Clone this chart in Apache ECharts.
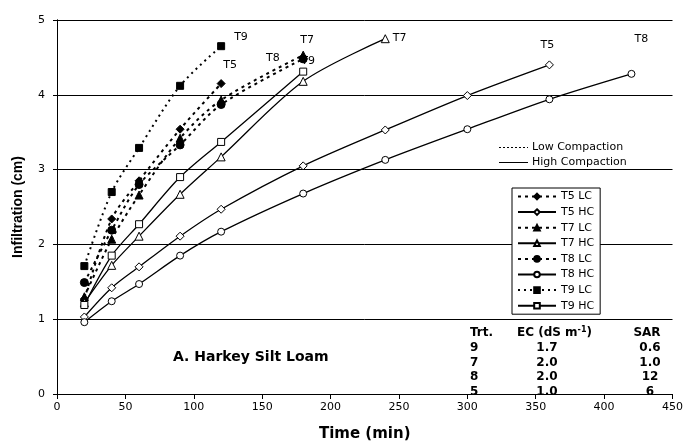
<!DOCTYPE html>
<html>
<head>
<meta charset="utf-8">
<script src="https://cdn.jsdelivr.net/npm/echarts@6/dist/echarts.min.js"></script>
<style>html,body{margin:0;padding:0;background:#fff}#c{width:686px;height:447px}</style>
</head>
<body>
<div id="c"></div>
<script>
const times = [20, 40, 60, 90, 120, 180, 240, 300, 360, 420];
const t5LC = [1.27, 2.34, 2.85, 3.54, 4.15];
const t5HC = [1.03, 1.42, 1.70, 2.11, 2.47, 3.05, 3.53, 3.99, 4.40];
const t7LC = [1.30, 2.07, 2.66, 3.42, 3.93, 4.53];
const t7HC = [1.22, 1.72, 2.11, 2.67, 3.17, 4.18, 4.75];
const t8LC = [1.49, 2.19, 2.80, 3.33, 3.87, 4.48];
const t8HC = [0.96, 1.24, 1.47, 1.85, 2.17, 2.68, 3.13, 3.54, 3.94, 4.28];
const t9LC = [1.71, 2.70, 3.29, 4.12, 4.65];
const t9HC = [1.19, 1.85, 2.27, 2.90, 3.37, 4.31];
const seriesNames = ['T5 LC', 'T5 HC', 'T7 LC', 'T7 HC', 'T8 LC', 'T8 HC', 'T9 LC', 'T9 HC'];
const endLabels = ['T5', 'T5', 'T7', 'T7', 'T8', 'T8', 'T9', 'T9'];
const xTicks = { min: 0, max: 450, interval: 50 };
const yTicks = { min: 0, max: 5, interval: 1 };
const tableHeader = ['Trt.', 'EC (dS m', 'SAR'];
const tableTrt = ['9', '7', '8', '5'];
const tableEC = ['1.7', '2.0', '2.0', '1.0'];
const tableSAR = ['0.6', '1.0', '12', '6'];
const panelTitle = 'A. Harkey Silt Loam';
const keyTexts = ['Low Compaction', 'High Compaction'];

const valueSets = [t5LC, t5HC, t7LC, t7HC, t8LC, t8HC, t9LC, t9HC];
const styles = [
  { symbol: 'diamond', filled: true, dash: [3, 4], size: 8, w: 2, lab: { position: 'top', offset: [9, -3] } },
  { symbol: 'diamond', filled: false, dash: 'solid', size: 8, w: 1.3, lab: { position: 'top', offset: [-2, -5] } },
  { symbol: 'triangle', filled: true, dash: [3, 4], size: 8, w: 2, lab: { position: 'top', offset: [4, 0] } },
  { symbol: 'triangle', filled: false, dash: 'solid', size: 8, w: 1.3, lab: { position: 'right', offset: [-2, -1] } },
  { symbol: 'circle', filled: true, dash: [3, 4], size: 8, w: 2, lab: { position: 'left', offset: [-14, -1] } },
  { symbol: 'circle', filled: false, dash: 'solid', size: 7, w: 1.3, lab: { position: 'top', offset: [10, -20] } },
  { symbol: 'rect', filled: true, dash: [2, 4], size: 7, w: 2, lab: { position: 'right', offset: [4, -9] } },
  { symbol: 'rect', filled: false, dash: 'solid', size: 7, w: 1.3, lab: { position: 'top', offset: [5, 4] } }
];

const series = seriesNames.map((name, i) => {
  const vals = valueSets[i];
  const st = styles[i];
  const data = vals.map((v, j) => {
    const item = { value: [times[j], v] };
    if (j === vals.length - 1) {
      item.label = Object.assign({
        show: true, formatter: endLabels[i], color: '#000',
        fontFamily: 'DejaVu Sans', fontSize: 11
      }, st.lab);
    }
    return item;
  });
  return {
    name: name, type: 'line', data: data, smooth: 0.3,
    symbol: st.symbol, symbolSize: st.size, showAllSymbol: true,
    lineStyle: { color: '#000', width: st.w, type: st.dash },
    itemStyle: { color: st.filled ? '#000' : '#fff', borderColor: '#000', borderWidth: 1 },
    emphasis: { disabled: true }, z: 3
  };
});
series.push({
  type: 'line', data: [], xAxisIndex: 1, yAxisIndex: 1
});

const font = 'Liberation Sans';
const graphics = [];
graphics.push({ type: 'text', left: 173, top: 350, style: { text: panelTitle, font: 'bold 14px "DejaVu Sans"', fill: '#000' } });
// compaction key
graphics.push({ type: 'line', shape: { x1: 499, y1: 147.5, x2: 528, y2: 147.5 }, style: { stroke: '#000', lineWidth: 1, lineDash: [2, 2] } });
graphics.push({ type: 'line', shape: { x1: 499, y1: 162.5, x2: 528, y2: 162.5 }, style: { stroke: '#000', lineWidth: 1 } });
graphics.push({ type: 'text', x: 532, y: 147, style: { text: keyTexts[0], font: '11px "DejaVu Sans"', fill: '#000', textVerticalAlign: 'middle' } });
graphics.push({ type: 'text', x: 532, y: 162, style: { text: keyTexts[1], font: '11px "DejaVu Sans"', fill: '#000', textVerticalAlign: 'middle' } });
// table
const bold = 'bold 12px "DejaVu Sans"';
graphics.push({ type: 'text', x: 470, y: 333, style: { text: tableHeader[0], font: bold, fill: '#000', textVerticalAlign: 'middle' } });
graphics.push({ type: 'text', x: 517, y: 333, style: { text: '{a|' + tableHeader[1] + '}{s|-1}{a|)}', fill: '#000', textVerticalAlign: 'middle',
  rich: { a: { font: bold, fill: '#000' }, s: { font: 'bold 8px "DejaVu Sans"', fill: '#000', verticalAlign: 'top', padding: [0, 0, 6, 0] } } } });
graphics.push({ type: 'text', x: 647, y: 333, style: { text: tableHeader[2], font: bold, fill: '#000', textAlign: 'center', textVerticalAlign: 'middle' } });
const rowY = [347.7, 362.7, 377.3, 392];
tableTrt.forEach((t, i) => {
  graphics.push({ type: 'text', x: 470, y: rowY[i], style: { text: t, font: bold, fill: '#000', textVerticalAlign: 'middle' } });
  graphics.push({ type: 'text', x: 547, y: rowY[i], style: { text: tableEC[i], font: bold, fill: '#000', textAlign: 'center', textVerticalAlign: 'middle' } });
  graphics.push({ type: 'text', x: 650, y: rowY[i], style: { text: tableSAR[i], font: bold, fill: '#000', textAlign: 'center', textVerticalAlign: 'middle' } });
});

const chart = echarts.init(document.getElementById('c'), null, { renderer: 'canvas' });
chart.setOption({
  animation: false,
  backgroundColor: '#fff',
  grid: { left: 57, right: 10, top: 20, bottom: 46 },
  legend: {
    data: seriesNames, orient: 'vertical', left: 512, top: 188,
    itemWidth: 38, itemHeight: 7, itemGap: 4.6,
    padding: [3, 6, 3, 5],
    backgroundColor: '#fff', borderColor: '#000', borderWidth: 1,
    textStyle: { fontFamily: 'DejaVu Sans', fontSize: 11, color: '#000', lineHeight: 11 },
    selectedMode: false
  },
  xAxis: [{
    type: 'value', position: 'bottom', min: xTicks.min, max: xTicks.max, interval: xTicks.interval,
    name: 'Time (min)', nameLocation: 'middle', nameGap: 33,
    nameTextStyle: { fontFamily: 'DejaVu Sans', fontWeight: 'bold', fontSize: 15, color: '#000' },
    axisLine: { lineStyle: { color: '#000' } },
    axisTick: { inside: false, length: 4, lineStyle: { color: '#000' } },
    axisLabel: { fontFamily: 'DejaVu Sans', fontSize: 11, color: '#000', margin: 8 },
    splitLine: { show: false }
  }, {
    type: 'value', position: 'top', min: xTicks.min, max: xTicks.max, interval: xTicks.interval,
    axisLine: { show: true, lineStyle: { color: '#000' } },
    axisTick: { show: true, inside: true, length: 5, lineStyle: { color: '#000' } },
    axisLabel: { show: false }, splitLine: { show: false }
  }],
  yAxis: [{
    type: 'value', min: yTicks.min, max: yTicks.max, interval: yTicks.interval,
    name: 'Infiltration (cm)', nameLocation: 'middle', nameGap: 32, nameRotate: 90,
    nameTextStyle: { fontFamily: font, fontWeight: 'bold', fontSize: 14, color: '#000' },
    axisLine: { show: true, lineStyle: { color: '#000' } },
    axisTick: { show: true, length: 4, lineStyle: { color: '#000' } },
    axisLabel: { fontFamily: 'DejaVu Sans', fontSize: 11, color: '#000', margin: 12 },
    splitLine: { show: true, lineStyle: { color: '#000', width: 1 } }
  }, {
    type: 'value', position: 'right', min: yTicks.min, max: yTicks.max, interval: yTicks.interval,
    axisLine: { show: true, lineStyle: { color: '#000' } },
    axisTick: { show: false }, axisLabel: { show: false }, splitLine: { show: false }
  }],
  graphic: graphics,
  series: series
});
</script>
</body>
</html>
